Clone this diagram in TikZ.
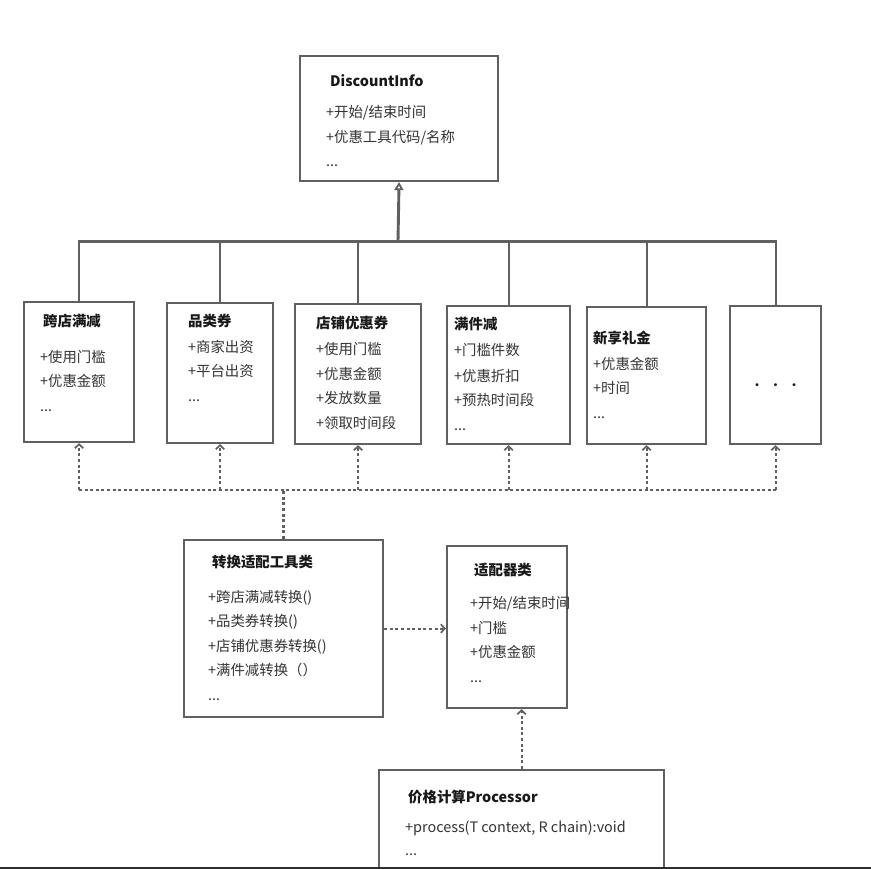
\documentclass[tikz,border=0pt]{standalone}
\usepackage{fontspec}
\newfontfamily\cjk{Noto Sans CJK SC}
\usetikzlibrary{arrows.meta,positioning}
\definecolor{linegray}{RGB}{96,96,96}
\definecolor{ink}{RGB}{52,52,52}
\definecolor{inkdark}{RGB}{24,24,24}
\newcommand{\clsname}[1]{\textcolor{inkdark}{\bfseries #1}}

\begin{document}
\begin{tikzpicture}[x=1pt,y=-1pt,
    cls/.style={draw=linegray,line width=2.1pt,fill=white,anchor=north west,inner sep=0pt},
    txt/.style={anchor=base west,align=left,inner sep=0pt,text=ink,font={\cjk\fontsize{14.4}{24.5}\selectfont}},
    solidln/.style={draw=linegray,line width=2.1pt},
    dotln/.style={draw=linegray,line width=2.1pt,dash pattern=on 3pt off 2.6pt},
    dep/.style={dotln,-{Straight Barb[length=4pt,width=8.5pt,line width=1.7pt]}}]
  \useasboundingbox (0,0) rectangle (871,869);
  \fill[white] (0,0) rectangle (871,869);
  \begin{scope}
  \clip (0,0) rectangle (871,866.5);
  % base class (text nodes sit on the baseline of their last line)
  \node[cls,minimum width=198pt,minimum height=125pt] (info) at (299,55) {};
  \node[txt] (info-t) at (326,167) {\hspace*{4pt}\clsname{DiscountInfo}\\[6.5pt]+开始/结束时间\\+优惠工具代码/名称\\...};
  % discount tools
  \node[cls,minimum width=110pt,minimum height=140pt] (b1) at (23,301) {};
  \node[txt] (b1-t) at (40,411) {\hspace*{3pt}\clsname{跨店满减}\\[11pt]+使用门槛\\+优惠金额\\...};
  \node[cls,minimum width=106pt,minimum height=140pt] (b2) at (166,302) {};
  \node[txt] (b2-t) at (188,401) {\clsname{品类券}\\[1.5pt]+商家出资\\+平台出资\\...};
  \node[cls,minimum width=126pt,minimum height=140pt] (b3) at (294,303) {};
  \node[txt] (b3-t) at (316,428) {\clsname{店铺优惠券}\\[1.5pt]+使用门槛\\+优惠金额\\+发放数量\\+领取时间段};
  \node[cls,minimum width=123pt,minimum height=138pt] (b4) at (446,305) {};
  \node[txt] (b4-t) at (454,430) {\clsname{满件减}\\[1pt]+门槛件数\\[1.5pt]+优惠折扣\\+预热时间段\\...};
  \node[cls,minimum width=119pt,minimum height=137pt] (b5) at (586,306) {};
  \node[txt] (b5-t) at (593,418) {\clsname{新享礼金}\\[1pt]+优惠金额\\+时间\\...};
  \node[cls,minimum width=91pt,minimum height=138pt] (b6) at (729,305) {};
  \node[txt,anchor=center,text=inkdark,font={\cjk\fontsize{14}{14}\selectfont}] (b6-t) at ([yshift=-12pt]b6.center) {\textbullet\hspace{4.5pt}\textbullet\hspace{4.5pt}\textbullet};
  % converter, adapter, processor
  \node[cls,minimum width=199pt,minimum height=177pt] (conv) at (183,539) {};
  \node[txt] (conv-t) at (208,700) {\hspace*{4pt}\clsname{转换适配工具类}\\[10.5pt]+跨店满减转换()\\+品类券转换()\\+店铺优惠券转换()\\+满件减转换（）\\...};
  \node[cls,minimum width=120pt,minimum height=162pt] (adap) at (446,545) {};
  \node[txt] (adap-t) at (470,682) {\hspace*{4pt}\clsname{适配器类}\\[8.5pt]+开始/结束时间\\+门槛\\+优惠金额\\...};
  \node[cls,minimum width=285pt,minimum height=130pt] (proc) at (378,769) {};
  \node[txt] (proc-t) at (405,855) {\hspace*{3pt}\clsname{价格计算Processor}\\[5.5pt]+process(T context, R chain):void\\[-1.5pt]...};
  % inheritance
  \coordinate (bus) at (398,241.5);
  \draw[solidln] (b1.north) -- (b1.north |- bus) -- (b6.north |- bus) -- (b6.north);
  \foreach \b in {b2,b3,b4,b5}
    \draw[solidln] (\b.north) -- (\b.north |- bus);
  \draw[solidln,line width=2.9pt,-{Triangle[open,length=8pt,width=9pt,line width=1.8pt]}] (bus) -- (info.south);
  % dependencies
  \coordinate (dbus) at (282,490);
  \draw[dotln] (b1.south |- dbus) -- (b6.south |- dbus);
  \draw[dotln,line width=3pt] (conv.north) -- (conv.north |- dbus);
  \foreach \b in {b1,b2,b3,b4,b5,b6}
    \draw[dep] (\b.south |- dbus) -- (\b.south);
  \draw[dep] (conv.east) -- (conv.east -| adap.west);
  \draw[dep] (proc.north) -- (proc.north |- adap.south);
  \end{scope}
  \fill[black!82] (0,866.5) rectangle (871,869);
\end{tikzpicture}
\end{document}
